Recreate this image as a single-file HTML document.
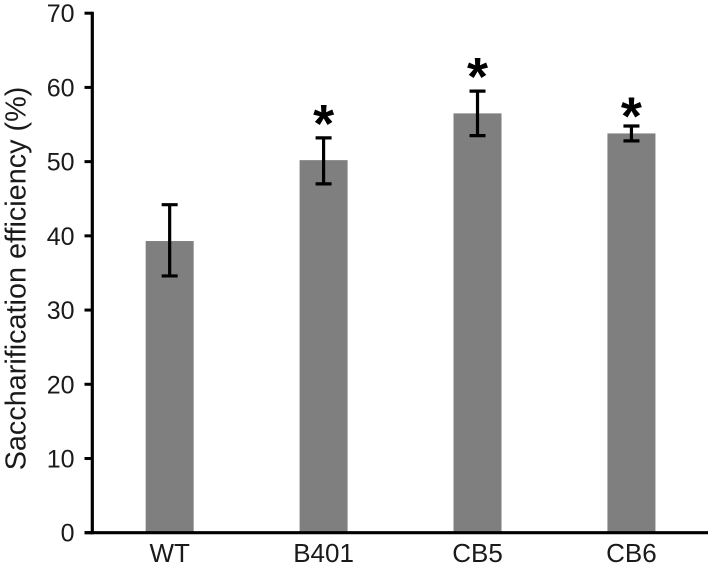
<!DOCTYPE html>
<html>
<head>
<meta charset="utf-8">
<style>
html,body{margin:0;padding:0;background:#fff;}
svg{display:block;font-family:"Liberation Sans",sans-serif;}
</style>
</head>
<body>
<svg id="chart" width="709" height="570" viewBox="0 0 709 570" xmlns="http://www.w3.org/2000/svg">
<text transform="translate(25.5,278.5) rotate(-90)" text-anchor="middle" font-size="28.8" fill="#1a1a1a">Saccharification efficiency (%)</text>
</svg>
<script>
const categories = ['WT', 'B401', 'CB5', 'CB6'];
const values = [39.3, 50.2, 56.5, 53.8];
const errorTop = [44.2, 53.2, 59.5, 54.8];
const errorBottom = [34.6, 47.0, 53.5, 52.8];
const starLevel = [null, 55.9, 62.2, 56.9];
const yTicks = [0, 10, 20, 30, 40, 50, 60, 70];

const svg = document.getElementById('chart');
const NS = 'http://www.w3.org/2000/svg';
const axisLeft = 92.3, axisRight = 708, yZero = 532.7, yTop = 13.2, yMax = 70;
function yScale(v) { return yZero - (v / yMax) * (yZero - yTop); }
function xCenter(i) { return 0.4 + axisLeft + (axisRight - axisLeft) * (i + 0.5) / categories.length; }
function make(tag, attrs, parent) {
  const el = document.createElementNS(NS, tag);
  for (const k in attrs) el.setAttribute(k, attrs[k]);
  (parent || svg).appendChild(el);
  return el;
}
const barWidth = 48, capHalf = 8;

categories.forEach(function (c, i) {
  const cx = xCenter(i);
  const bar = make('rect', { x: cx - barWidth / 2, y: yScale(values[i]), width: barWidth, height: yZero - yScale(values[i]), fill: '#7f7f7f' });
  
  

  const eb = make('path', {
    d: 'M' + (cx - capHalf) + ' ' + yScale(errorTop[i]) + 'H' + (cx + capHalf) +
       'M' + cx + ' ' + yScale(errorTop[i]) + 'V' + yScale(errorBottom[i]) +
       'M' + (cx - capHalf) + ' ' + yScale(errorBottom[i]) + 'H' + (cx + capHalf),
    stroke: '#000', 'stroke-width': 3.2, fill: 'none'
  });
  
  

  if (starLevel[i] !== null) {
    const star = make('text', { x: cx, y: yScale(starLevel[i]) + 24, 'text-anchor': 'middle', 'font-size': 54, 'font-weight': 'bold', fill: '#000' });
    star.textContent = '*';
    
    
  }

  const label = make('text', { x: cx, y: 562, 'text-anchor': 'middle', 'font-size': 26, fill: '#1a1a1a' });
  label.textContent = c;
  
  
});

const yAxis = make('line', { x1: axisLeft, x2: axisLeft, y1: yTop - 1.5, y2: yZero + 1.5, stroke: '#000', 'stroke-width': 3.2 });



const xAxis = make('line', { x1: 84.5, x2: axisRight, y1: yZero, y2: yZero, stroke: '#000', 'stroke-width': 3.2 });



yTicks.forEach(function (t) {
  const y = yScale(t);
  const tick = make('line', { x1: 84.5, x2: axisLeft, y1: y, y2: y, stroke: '#000', 'stroke-width': 3 });
  
  
  const label = make('text', { x: 74.5, y: y + 9, 'text-anchor': 'end', 'font-size': 25, fill: '#1a1a1a' });
  label.textContent = t;
  
  
});
</script>
</body>
</html>
